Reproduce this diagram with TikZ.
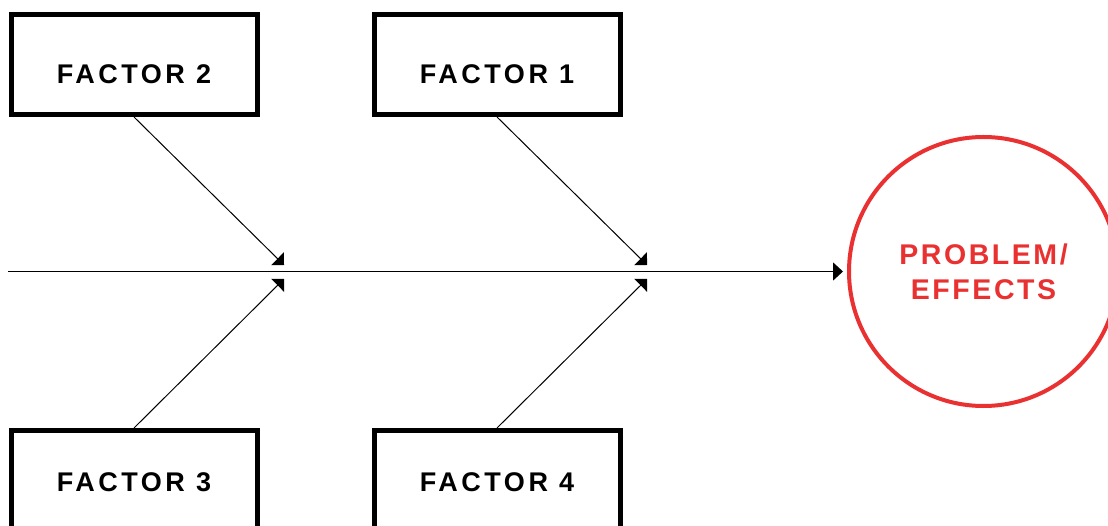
\documentclass[tikz,border=0pt]{standalone}
\usepackage{xcolor}
\usepackage{fontspec}
\usepackage{tikz}
\usetikzlibrary{arrows.meta}
\setmainfont{Liberation Sans}
\newfontfamily\factorfont[LetterSpace=13]{Liberation Sans}
\newfontfamily\problemfont[LetterSpace=9]{Liberation Sans}
\definecolor{probred}{RGB}{232,49,48}

\begin{document}
\begin{tikzpicture}[x=1pt, y=-1pt,
    factor/.style={rectangle, draw, line width=5pt, minimum width=246pt, minimum height=100pt,
      inner sep=0pt, text depth=0pt, font=\factorfont\bfseries\fontsize{27}{32}\selectfont},
    upper/.style={factor, text height=38.5pt},
    lower/.style={factor, text height=21.5pt},
    bone/.style={line width=1pt, -{Triangle[length=9pt, width=18pt]}},
    spine/.style={line width=1.3pt, -{Triangle[length=10pt, width=18pt]}, shorten >=4pt}
    ]
    \clip (0,0) rectangle (1108,526);
    \node[upper] (f2) at (134,64.5) {FACTOR 2};
    \node[upper] (f1) at (497,64.5) {FACTOR 1};
    \node[lower] (f3) at (134,480.5) {FACTOR 3};
    \node[lower] (f4) at (497,480.5) {FACTOR 4};
    \node[circle, draw=probred, line width=4pt, minimum size=269pt, inner sep=0pt,
      text=probred, align=center, font=\problemfont\bfseries\fontsize{28.5}{35}\selectfont]
      (problem) at (983.5,271.5) {PROBLEM/\\EFFECTS};
    \coordinate (tail) at (8,271.5);
    \coordinate (t2) at (284,265);
    \coordinate (t3) at (284,279);
    \coordinate (t1) at (647,265);
    \coordinate (t4) at (647,279);
    \draw[spine] (tail) -- (problem.west);
    \draw[bone] (f2.south) -- (t2);
    \draw[bone] (f3.north) -- (t3);
    \draw[bone] (f1.south) -- (t1);
    \draw[bone] (f4.north) -- (t4);
  \end{tikzpicture}
\end{document}
